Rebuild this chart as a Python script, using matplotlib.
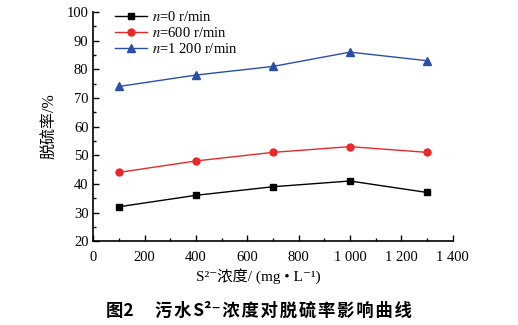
import matplotlib
matplotlib.use("Agg")
import matplotlib.pyplot as plt  # noqa: E402
from matplotlib.ticker import MultipleLocator, FixedLocator  # noqa: E402

plt.rcParams["font.family"] = ["Liberation Serif", "Noto Sans CJK SC", "DejaVu Serif"]
plt.rcParams["mathtext.fontset"] = "stix"

conc = [100, 400, 700, 1000, 1300]
rate_0 = [32, 36, 39, 41, 37]
rate_600 = [44, 48, 51, 53, 51]
rate_1200 = [74, 78, 81, 86, 83]
labels = ["$n$=0 r/min", "$n$=600 r/min", "$n$=1 200 r/min"]
xticks = [0, 200, 400, 600, 800, 1000, 1200, 1400]
xticklabels = ["0", "200", "400", "600", "800", "1 000", "1 200", "1 400"]
caption_head = "图2"
caption_body = ["污", "水", "S²⁻", "浓", "度", "对", "脱", "硫", "率", "影", "响", "曲", "线"]


def main():
    fig = plt.figure(figsize=(5.18, 3.25), dpi=100)
    ax = fig.add_axes([0.18, 0.258, 0.694, 0.705])

    ax.plot(conc, rate_0, "-s", color="black", ms=5, lw=1, label=labels[0])
    ax.plot(conc, rate_600, "-o", color="#e8282b", ms=5, lw=1, label=labels[1])
    ax.plot(conc, rate_1200, "-^", color="#2a4fa8", ms=6, lw=1, label=labels[2])

    ax.set_xlim(0, 1400)
    ax.set_ylim(20, 100)
    ax.xaxis.set_major_locator(FixedLocator(xticks))
    ax.set_xticklabels(xticklabels)
    ax.xaxis.set_minor_locator(MultipleLocator(100))
    ax.yaxis.set_major_locator(MultipleLocator(10))
    ax.yaxis.set_minor_locator(MultipleLocator(5))
    ax.tick_params(which="both", direction="in", labelsize=10.5, width=1)
    ax.tick_params(which="major", length=4)
    ax.tick_params(which="minor", length=2.5)
    ax.tick_params(axis="x", pad=7)
    for s in ("top", "right"):
        ax.spines[s].set_visible(False)
    for s in ("left", "bottom"):
        ax.spines[s].set_linewidth(1.2)

    ax.set_xlabel("S²⁻浓度/ (mg • L⁻¹)", fontsize=11, labelpad=4)
    ax.xaxis.set_label_coords(0.46, -0.12)
    ax.set_ylabel("脱硫率/%", fontsize=11.5, labelpad=6)

    ax.legend(loc="upper left", bbox_to_anchor=(0.045, 1.035), frameon=False,
              fontsize=10.5, handlelength=2.2, handletextpad=0.3, labelspacing=0.15,
              borderaxespad=0)

    caption = caption_head + "\u2003 " + "\u200a".join(caption_body)
    fig.text(0.5, 0.043, caption, ha="center", va="center",
             fontsize=12.5, fontweight="bold",
             family=["Noto Sans CJK SC", "DejaVu Sans"])

    fig.savefig("out.png", dpi=100)
    plt.close(fig)


if __name__ == "__main__":
    main()
